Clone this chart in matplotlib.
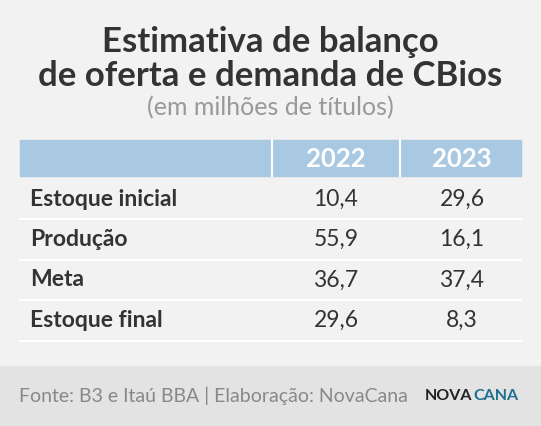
import matplotlib.pyplot as plt
from matplotlib.patches import Rectangle

rows = ['Estoque inicial', 'Produção', 'Meta', 'Estoque final']
years = ['2022', '2023']
vals_2022 = ['10,4', '55,9', '36,7', '29,6']
vals_2023 = ['29,6', '16,1', '37,4', '8,3']

plt.rcParams['font.family'] = ['Lato', 'DejaVu Sans']

fig = plt.figure(figsize=(5.41, 4.26), dpi=100)
ax = fig.add_axes([0, 0, 1, 1])
ax.set_xlim(0, 541)
ax.set_ylim(426, 0)
ax.axis('off')

bg = '#f2f2f2'
ax.add_patch(Rectangle((0, 0), 541, 426, color=bg))
ax.add_patch(Rectangle((0, 366), 541, 60, color='#e3e3e3'))

ax.text(270, 42, 'Estimativa de balanço', ha='center', va='center',
        fontsize=25, fontweight='bold', color='#333333')
ax.text(270, 76, 'de oferta e demanda de CBios', ha='center', va='center',
        fontsize=25, fontweight='bold', color='#333333')
ax.text(270, 108, '(em milhões de títulos)', ha='center', va='center',
        fontsize=18, color='#999999')

# header
ax.add_patch(Rectangle((20, 140), 501, 36, color='#a9c9e2'))
for x in (272, 400):
    ax.plot([x, x], [140, 176], color='white', lw=1.5)
col_x = [336, 462]
for x, y in zip(col_x, years):
    ax.text(x, 159, y, ha='center', va='center', fontsize=18.5,
            fontweight='bold', color='white')

row_h = 40.5
for i, name in enumerate(rows):
    yc = 199 + i * row_h
    ax.text(30, yc, name, ha='left', va='center', fontsize=16.5,
            fontweight='bold', color='#333333')
    ax.text(col_x[0], yc, vals_2022[i], ha='center', va='center',
            fontsize=16.5, color='#333333')
    ax.text(col_x[1], yc, vals_2023[i], ha='center', va='center',
            fontsize=16.5, color='#333333')
    ax.plot([20, 521], [yc + row_h / 2, yc + row_h / 2], color='white', lw=1.5)

ax.text(19, 396, 'Fonte: B3 e Itaú BBA | Elaboração: NovaCana', ha='left',
        va='center', fontsize=14, color='#888888')
ax.text(472, 396, 'NOVA', ha='right', va='center', fontsize=11.5,
        fontweight='bold', color='#222222')
ax.text(473, 396, 'CANA', ha='left', va='center', fontsize=11.5,
        fontweight='bold', color='#1f6f8f')

fig.savefig('out.png', dpi=100)
